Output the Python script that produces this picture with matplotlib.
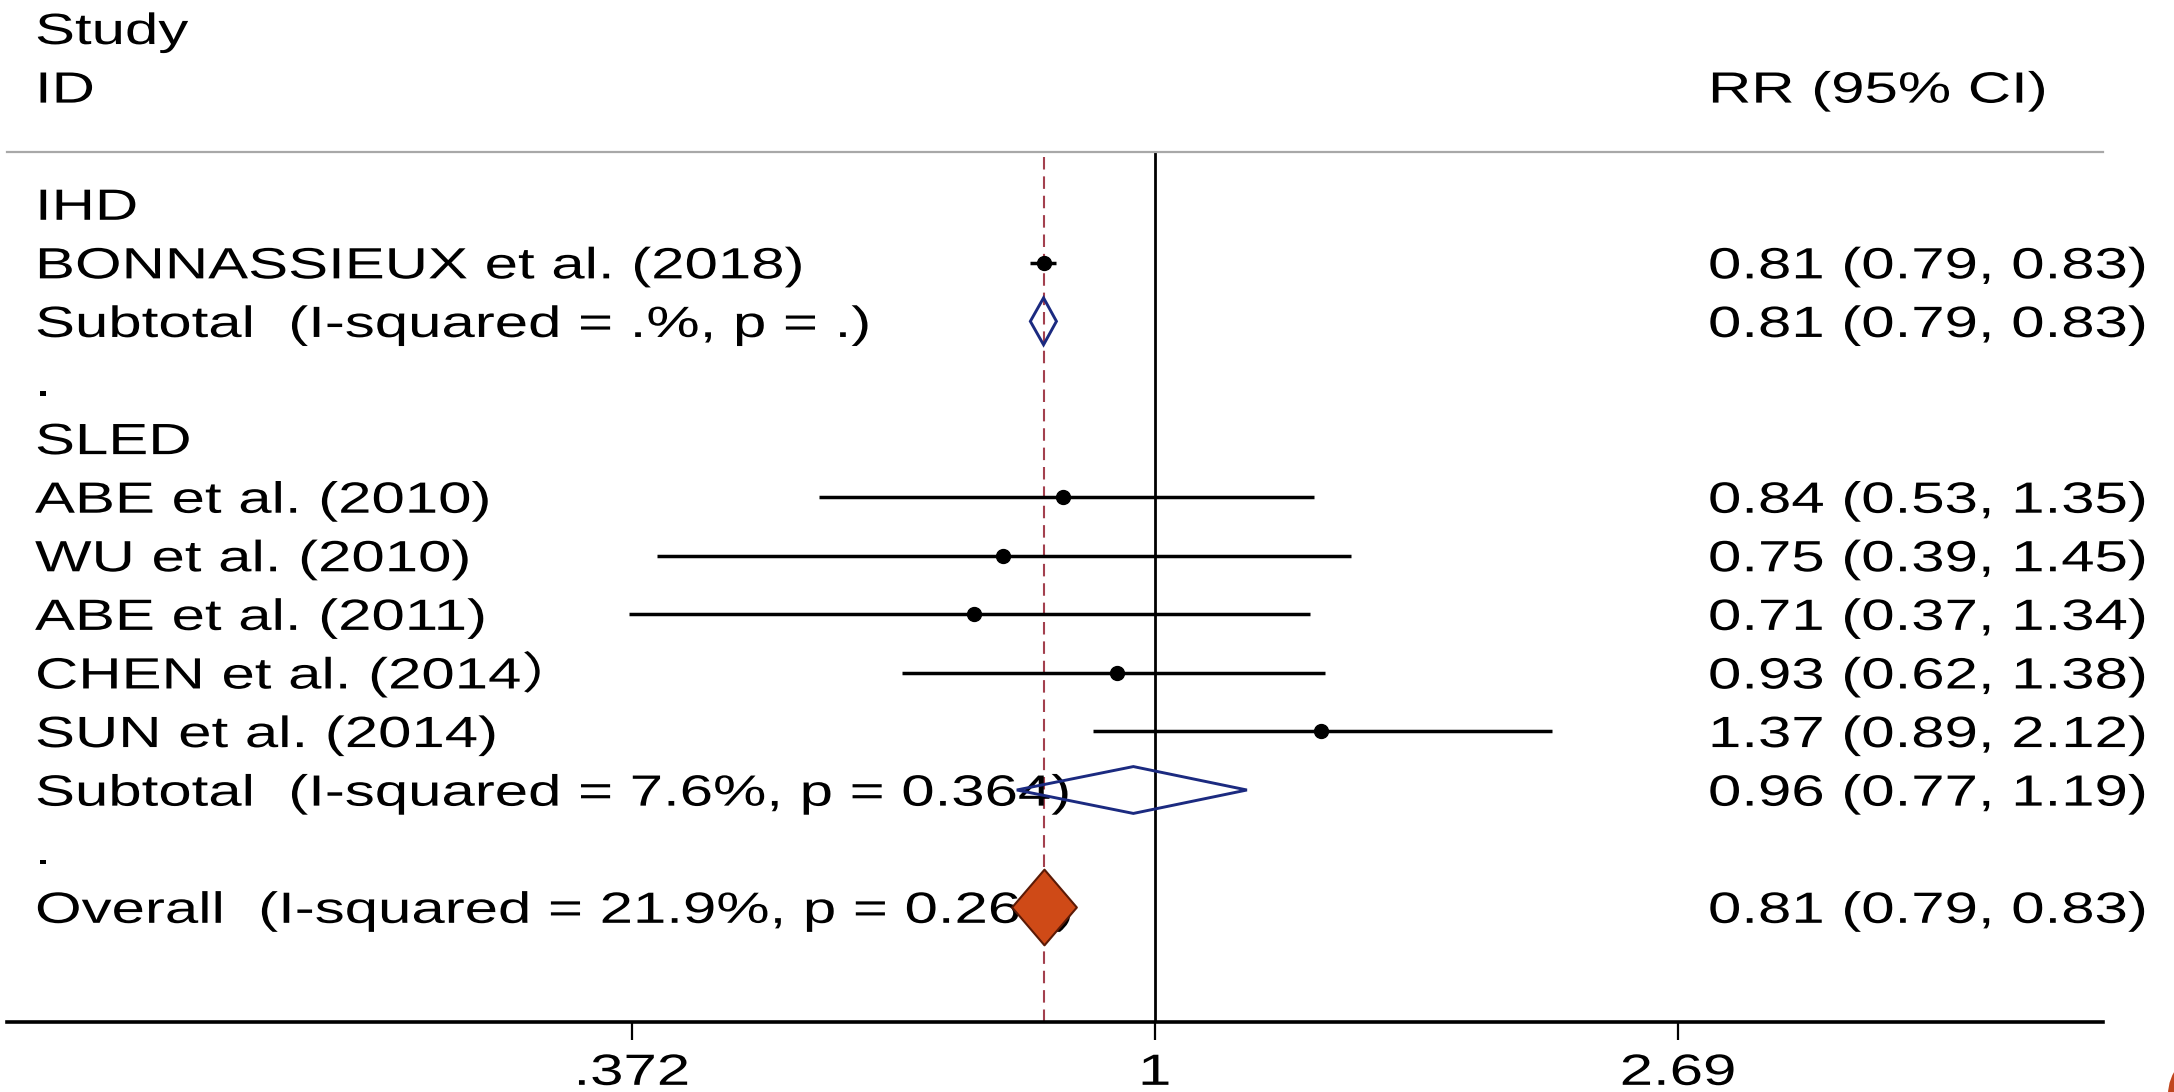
import numpy as np
import matplotlib
matplotlib.use("Agg")
import matplotlib.pyplot as plt
from matplotlib.patheffects import AbstractPathEffect
from matplotlib.transforms import Affine2D, blended_transform_factory
from matplotlib.patches import Polygon, Ellipse
from matplotlib.path import Path
from matplotlib.ticker import NullLocator

plt.rcParams['font.family'] = ['Liberation Sans', 'Noto Sans CJK SC', 'DejaVu Sans']

# ---------------- data ----------------
row_labels = [
    "IHD",
    "BONNASSIEUX et al. (2018)",
    "Subtotal  (I-squared = .%, p = .)",
    ".",
    "SLED",
    "ABE et al. (2010)",
    "WU et al. (2010)",
    "ABE et al. (2011)",
    "CHEN et al. (2014\uff09",
    "SUN et al. (2014)",
    "Subtotal  (I-squared = 7.6%, p = 0.364)",
    ".",
    "Overall  (I-squared = 21.9%, p = 0.269)",
]
row_kind = ["group", "study", "subtotal", "blank",
            "group", "study", "study", "study", "study", "study", "subtotal", "blank",
            "overall"]
rr    = [np.nan, 0.81, 0.81, np.nan, np.nan, 0.84, 0.75, 0.71, 0.93, 1.37, 0.96, np.nan, 0.81]
ci_lo = [np.nan, 0.79, 0.79, np.nan, np.nan, 0.53, 0.39, 0.37, 0.62, 0.89, 0.77, np.nan, 0.79]
ci_hi = [np.nan, 0.83, 0.83, np.nan, np.nan, 1.35, 1.45, 1.34, 1.38, 2.12, 1.19, np.nan, 0.83]

x_ticks = [0.372, 1.0, 2.69]
x_tick_labels = [".372", "1", "2.69"]
x_limits = (0.114, 6.01)


class StretchX(AbstractPathEffect):
    """Render text glyphs widened horizontally."""

    def __init__(self, sx, anchor="left"):
        super().__init__()
        self.sx = sx
        self.anchor = anchor

    def draw_path(self, renderer, gc, tpath, affine, rgbFace=None):
        if self.anchor == "center":
            ext = tpath.get_extents()
            cx = 0.5 * (ext.x0 + ext.x1)
            pre = Affine2D().translate(-cx, 0).scale(self.sx, 1).translate(cx, 0)
        else:
            pre = Affine2D().scale(self.sx, 1)
        renderer.draw_path(gc, tpath, pre + affine, rgbFace)


FS = 31.5
SX = 1.37
WIDE = [StretchX(SX)]
WIDE_C = [StretchX(SX, anchor="center")]
NAVY = "#1b2a80"

W, H = 2174, 1092
fig = plt.figure(figsize=(W / 100, H / 100), dpi=100)
fig.patch.set_facecolor("white")

ax_x0, ax_x1 = 7 / W, 2103 / W
ax_top, ax_bot = 1 - 152 / H, 1 - 1022 / H
ax = fig.add_axes([ax_x0, ax_bot, ax_x1 - ax_x0, ax_top - ax_bot])

n = len(row_labels)
ax.set_xscale("log")
ax.set_xlim(*x_limits)
ax.set_ylim(n + 0.96, -0.89)

for side in ("left", "right"):
    ax.spines[side].set_visible(False)
ax.spines["top"].set_color("#a8a8a8")
ax.spines["top"].set_linewidth(1.6)
ax.spines["bottom"].set_color("black")
ax.spines["bottom"].set_linewidth(2.6)

ax.set_yticks([])
ax.set_xticks(x_ticks, x_tick_labels)
ax.xaxis.set_minor_locator(NullLocator())
ax.tick_params(axis="x", length=13, width=1.6, pad=9.2, labelsize=FS,
               direction="out", colors="black")
for lbl in ax.get_xticklabels():
    lbl.set_path_effects(WIDE_C)

# reference lines: null effect and overall estimate
overall_idx = row_kind.index("overall")
ax.axvline(1.0, color="black", lw=2.0, zorder=1)
ax.axvline(rr[overall_idx], color="#a3404e", lw=1.5, ls=(0, (6, 3.3)), zorder=1)

# individual studies
for r, k in enumerate(row_kind):
    if k == "study":
        ax.plot([ci_lo[r], ci_hi[r]], [r, r], color="black", lw=2.5,
                solid_capstyle="butt", zorder=3)
        ax.plot(rr[r], r, "o", color="black", ms=10, zorder=3)
    elif k == "subtotal":
        h = 0.4
        ax.add_patch(Polygon([(ci_lo[r], r), (rr[r], r - h), (ci_hi[r], r), (rr[r], r + h)],
                             closed=True, fill=False, edgecolor=NAVY, lw=2.1, zorder=4))

# pooled overall estimate
big_diamond = Path([(-0.855, 0), (0, 1), (0.855, 0), (0, -1), (-0.855, 0)],
                   [Path.MOVETO, Path.LINETO, Path.LINETO, Path.LINETO, Path.CLOSEPOLY])
ax.plot(rr[overall_idx], overall_idx, marker=big_diamond, ms=54.5, mfc="#cf4a17",
        mec="#5b1a06", mew=1.5, ls="none", zorder=5)

# text columns
left_tr = blended_transform_factory(fig.transFigure, ax.transData)
x_left = 35 / W
x_right = 1708 / W
base = 0.267  # baseline offset below the row centre, in row units

for r, lab in enumerate(row_labels):
    ax.text(x_left, r + base, lab, transform=left_tr, ha="left", va="baseline",
            fontsize=FS, color="black", clip_on=False, path_effects=WIDE, zorder=2)
    if not np.isnan(rr[r]):
        ax.text(x_right, r + base, f"{rr[r]:.2f} ({ci_lo[r]:.2f}, {ci_hi[r]:.2f})",
                transform=left_tr, ha="left", va="baseline", fontsize=FS,
                color="black", clip_on=False, path_effects=WIDE, zorder=2)

# column headings
ax.text(x_left, -3.0 + base, "Study", transform=left_tr, ha="left", va="baseline",
        fontsize=FS, color="black", clip_on=False, path_effects=WIDE)
ax.text(x_left, -2.0 + base, "ID", transform=left_tr, ha="left", va="baseline",
        fontsize=FS, color="black", clip_on=False, path_effects=WIDE)
ax.text(x_right, -2.0 + base, "RR (95% CI)", transform=left_tr, ha="left",
        va="baseline", fontsize=FS, color="black", clip_on=False, path_effects=WIDE)

# corner emblem edge
fig.add_artist(Ellipse((2205 / W, 1 - 1095 / H), 74 / W, 84 / H,
                       transform=fig.transFigure, facecolor="#c0461e",
                       edgecolor="none"))

fig.savefig("out.png", dpi=100, facecolor="white")
